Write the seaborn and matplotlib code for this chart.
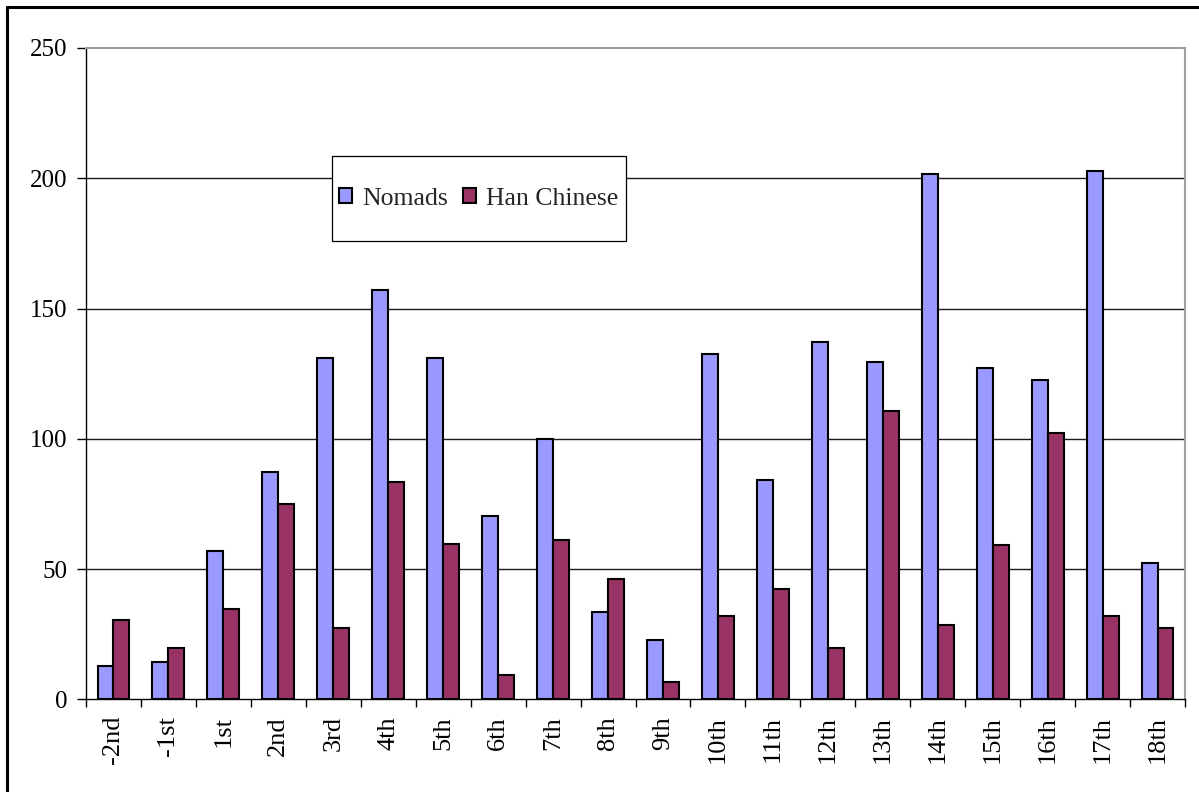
import matplotlib
matplotlib.use("Agg")
import matplotlib.pyplot as plt
from matplotlib.lines import Line2D
from matplotlib.patches import Rectangle
import seaborn as sns
import pandas as pd

centuries = ["-2nd", "-1st", "1st", "2nd", "3rd", "4th", "5th", "6th", "7th", "8th",
             "9th", "10th", "11th", "12th", "13th", "14th", "15th", "16th", "17th", "18th"]
nomads = [12.8, 14.5, 56.8, 87.2, 130.9, 157.3, 130.9, 70.5, 100.0, 33.5,
          22.9, 132.4, 84.1, 137.0, 129.5, 201.7, 127.2, 122.7, 202.7, 52.3]
han = [30.4, 19.8, 34.7, 74.9, 27.3, 83.3, 59.7, 9.2, 61.3, 46.3,
       6.8, 31.8, 42.5, 19.8, 110.5, 28.7, 59.1, 102.2, 31.8, 27.3]
series_names = ["Nomads", "Han Chinese"]
colors = ["#9999FF", "#993366"]
yticks = [0, 50, 100, 150, 200, 250]

df = pd.DataFrame({
    "century": centuries * 2,
    "value": nomads + han,
    "group": [series_names[0]] * len(centuries) + [series_names[1]] * len(centuries),
})

sns.set_style("white")
plt.rcParams["font.family"] = ["Liberation Serif", "DejaVu Serif"]

fig = plt.figure(figsize=(11.99, 7.92), dpi=100)
ax = fig.add_axes([86 / 1199, 1 - 699.3 / 792, (1185 - 86) / 1199, (699.3 - 48) / 792])

sns.barplot(data=df, x="century", y="value", hue="group", order=centuries,
            hue_order=series_names, palette=colors, saturation=1, width=0.58,
            edgecolor="black", linewidth=1.5, ax=ax, zorder=3, legend=True)

ax.set_xlim(-0.5, len(centuries) - 0.5)
ax.set_ylim(0, 250)
ax.set_yticks(yticks)
ax.set_yticklabels([str(v) for v in yticks], fontsize=18)
ax.set_xticks(range(len(centuries)))
ax.set_xticklabels(centuries, rotation=90, fontsize=19)
ax.set_xticks([i - 0.5 for i in range(len(centuries) + 1)], minor=True)
ax.tick_params(axis="x", which="major", length=0, pad=12, colors="black")
ax.tick_params(axis="x", which="minor", length=6, width=1, direction="out", bottom=True, color="black")
ax.tick_params(axis="y", which="major", length=6.5, width=1, direction="out", left=True, pad=7, colors="black")
ax.set_xlabel("")
ax.set_ylabel("")

for v in yticks[1:-1]:
    ax.axhline(v, color="#1a1a1a", linewidth=1.0, zorder=1)

for side in ["left", "bottom"]:
    ax.spines[side].set_color("black")
    ax.spines[side].set_linewidth(1.0)
for side in ["top", "right"]:
    ax.spines[side].set_color("#A0A0A0")
    ax.spines[side].set_linewidth(1.5)

# legend box
box = Rectangle((0.2236, 0.704), 0.2678, 0.1295, transform=ax.transAxes,
                facecolor="white", edgecolor="black", linewidth=0.9, zorder=6)
ax.add_patch(box)
handles, labels = ax.get_legend_handles_labels()
leg = ax.legend(handles, labels, loc="center", bbox_to_anchor=(0.3575, 0.7688),
                ncol=2, frameon=False, fontsize=18.5, handlelength=0.5, handleheight=0.5,
                handletextpad=0.4, columnspacing=0.6, borderpad=0)
leg.set_zorder(7)

# outer chart frame
fig.add_artist(Line2D([7 / 1199, 7 / 1199], [0, 1 - 7 / 792], color="black", linewidth=2.2,
                      transform=fig.transFigure))
fig.add_artist(Line2D([7 / 1199, 1], [1 - 7 / 792, 1 - 7 / 792], color="black", linewidth=2.2,
                      transform=fig.transFigure))

fig.savefig("out.png", dpi=100)
